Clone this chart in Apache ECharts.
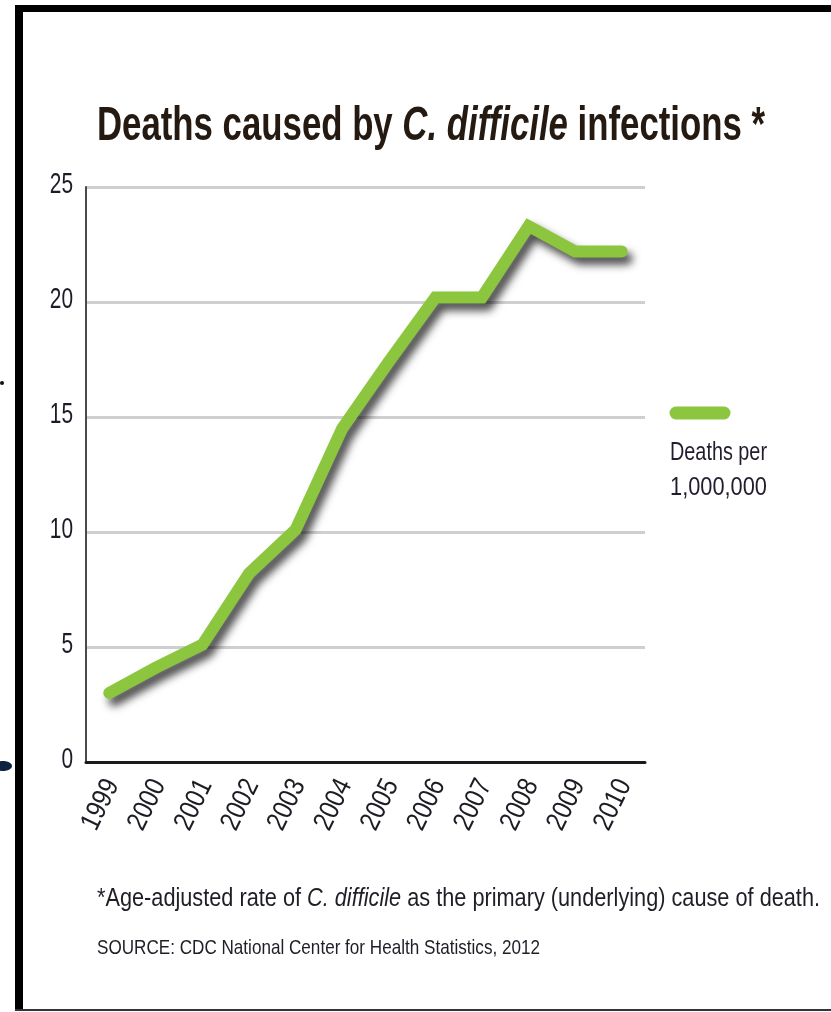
<!DOCTYPE html>
<html>
<head>
<meta charset="utf-8">
<script src="https://cdn.jsdelivr.net/npm/echarts@6/dist/echarts.min.js"></script>
<style>
  html, body { margin: 0; padding: 0; background: #ffffff; }
  #chart { width: 831px; height: 1012px; }
</style>
</head>
<body>
<div id="chart"></div>
<script>
// Age-adjusted death rate from C. difficile, per 1,000,000
const years = ['1999', '2000', '2001', '2002', '2003', '2004', '2005', '2006', '2007', '2008', '2009', '2010'];
const rates = [3.0, 4.1, 5.1, 8.2, 10.1, 14.5, 17.4, 20.2, 20.2, 23.3, 22.2, 22.2];
const yTicks = [0, 5, 10, 15, 20, 25];

const titleParts = ['Deaths caused by ', 'C. difficile', ' infections *'];
const legendLines = ['Deaths per', '1,000,000'];
const footnoteParts = ['*Age-adjusted rate of ', 'C. difficile', ' as the primary (underlying) cause of death.'];
const sourceText = 'SOURCE: CDC National Center for Health Statistics, 2012';

const GREEN = '#8cc63f';
const SANS = '"Liberation Sans", Arial, sans-serif';
const GRID = { left: 86, right: 186, top: 187, bottom: 250 };

// canvas measurement so text can be condensed to a given width
const mctx = document.createElement('canvas').getContext('2d');
function textWidth(parts, size, weight, italicIdx) {
  let w = 0;
  parts.forEach(function (p, i) {
    const style = (i === italicIdx) ? 'italic ' : '';
    mctx.font = style + weight + ' ' + size + 'px ' + SANS;
    w += mctx.measureText(p).width;
  });
  return w;
}

function richText(parts, italicIdx) {
  return parts.map(function (p, i) { return '{' + (i === italicIdx ? 'i' : 'n') + '|' + p + '}'; }).join('');
}

// text block squeezed horizontally to targetW pixels
function squeezedText(parts, italicIdx, x, y, size, weight, color, targetW) {
  const sx = targetW / textWidth(parts, size, weight, italicIdx);
  return {
    type: 'text',
    x: x, y: y,
    scaleX: sx,
    style: {
      text: richText(parts, italicIdx),
      fill: color,
      textAlign: 'left',
      textVerticalAlign: 'middle',
      rich: {
        n: { fontFamily: SANS, fontSize: size, fontWeight: weight, fill: color },
        i: { fontFamily: SANS, fontSize: size, fontWeight: weight, fontStyle: 'italic', fill: color }
      }
    }
  };
}

// condensed tick label
function tickText(str, x, y, size, sx, align, rotation, color) {
  return {
    type: 'text',
    x: x, y: y,
    scaleX: sx,
    rotation: rotation,
    style: {
      text: str,
      fontFamily: SANS,
      fontSize: size,
      fill: color,
      textAlign: align,
      textVerticalAlign: 'middle'
    }
  };
}

const chart = echarts.init(document.getElementById('chart'), null, { renderer: 'canvas' });

chart.setOption({
  backgroundColor: '#ffffff',
  animation: false,
  grid: { left: GRID.left, right: GRID.right, top: GRID.top, bottom: GRID.bottom, containLabel: false },
  xAxis: {
    type: 'category',
    data: years,
    boundaryGap: true,
    axisLine: { show: true, lineStyle: { color: '#1a1a1a', width: 3 } },
    axisTick: { show: false },
    splitLine: { show: false },
    axisLabel: { show: false }
  },
  yAxis: {
    type: 'value',
    min: yTicks[0],
    max: yTicks[yTicks.length - 1],
    interval: yTicks[1] - yTicks[0],
    axisLine: { show: true, lineStyle: { color: '#4a4a4a', width: 2 } },
    axisTick: { show: false },
    splitLine: { show: true, lineStyle: { color: '#cfcfcf', width: 3 } },
    axisLabel: { show: false }
  },
  series: [{
    name: legendLines.join(' '),
    type: 'line',
    data: rates,
    symbol: 'none',
    z: 5,
    lineStyle: {
      color: GREEN,
      width: 12,
      cap: 'round',
      join: 'miter',
      shadowColor: 'rgba(0,0,0,0.72)',
      shadowBlur: 8,
      shadowOffsetX: 5,
      shadowOffsetY: 7
    }
  }]
});

// tick labels placed through the axes' own scales
const yLabelEls = yTicks.map(function (v) {
  const py = chart.convertToPixel({ yAxisIndex: 0 }, v);
  return tickText(String(v), GRID.left - 13, py - 2, 29, 0.72, 'right', 0, '#1c1c28');
});
const xLabelEls = years.map(function (yr) {
  const px = chart.convertToPixel({ xAxisIndex: 0 }, yr);
  return tickText(yr, px + 3, 781, 28, 0.85, 'right', 64 * Math.PI / 180, '#1c1c24');
});

chart.setOption({
  graphic: [
    // frame
    { type: 'rect', shape: { x: 15, y: 5, width: 8, height: 1006 }, style: { fill: '#000000' } },
    { type: 'rect', shape: { x: 15, y: 5, width: 816, height: 7 }, style: { fill: '#000000' } },
    { type: 'rect', shape: { x: 15, y: 1009, width: 816, height: 2 }, style: { fill: '#333333' } },
    // specks on the outer edge
    { type: 'circle', shape: { cx: 2, cy: 383, r: 2 }, style: { fill: '#111111' } },
    { type: 'ellipse', shape: { cx: 3, cy: 766, rx: 9, ry: 5 }, style: { fill: '#0d2240' } },
    // title
    squeezedText(titleParts, 1, 97, 127, 48, 'bold', '#241a12', 668),
    // legend swatch and label
    { type: 'line', shape: { x1: 676, y1: 413, x2: 724, y2: 413 }, style: { stroke: GREEN, lineWidth: 13, lineCap: 'round' } },
    squeezedText([legendLines[0]], -1, 670, 453, 25, 'normal', '#231c2c', 97),
    squeezedText([legendLines[1]], -1, 670, 488, 25, 'normal', '#231c2c', 97),
    // footnotes
    squeezedText(footnoteParts, 1, 97, 899, 26, 'normal', '#1e1e26', 723),
    squeezedText([sourceText], -1, 97, 948, 21, 'normal', '#1e1e26', 443)
  ].concat(yLabelEls, xLabelEls)
});
</script>
</body>
</html>
